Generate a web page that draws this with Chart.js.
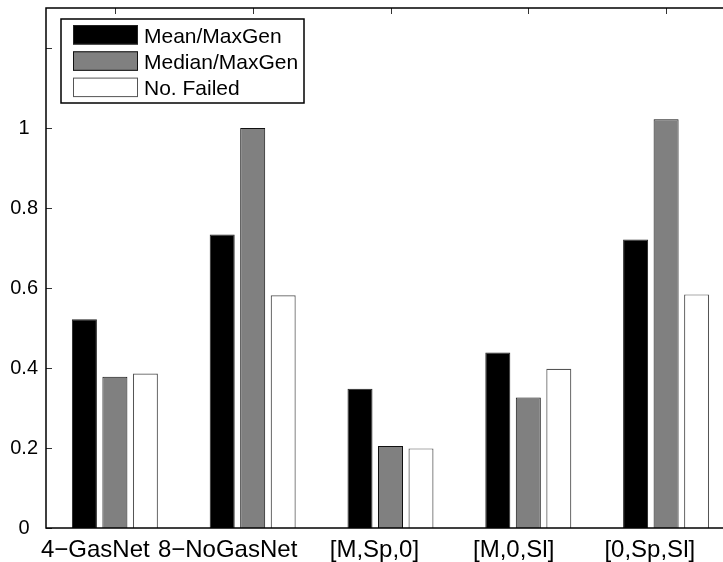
<!DOCTYPE html>
<html>
<head>
<meta charset="utf-8">
<script src="https://cdn.jsdelivr.net/npm/chart.js@4.4.1/dist/chart.umd.min.js"></script>
<style>
    html, body { margin: 0; padding: 0; background: #fff; overflow: hidden; }
    #wrap { width: 723px; height: 562px; overflow: hidden; }
</style>
</head>
<body>
<div id="wrap">
    <canvas id="barChart" width="745" height="562"></canvas>
</div>
<script>
// data
const categories = ['4\u2212GasNet', '8\u2212NoGasNet', '[M,Sp,0]', '[M,0,Sl]', '[0,Sp,Sl]'];
const seriesNames = ['Mean/MaxGen', 'Median/MaxGen', 'No. Failed'];
const meanMaxGen = [0.522, 0.734, 0.348, 0.439, 0.721];
const medianMaxGen = [0.378, 1.0, 0.205, 0.326, 1.022];
const noFailed = [0.386, 0.582, 0.199, 0.398, 0.584];
const yTicks = [0, 0.2, 0.4, 0.6, 0.8, 1, 1.2];
const yTickLabels = ['0', '0.2', '0.4', '0.6', '0.8', '1', ''];

const FONT = "'Liberation Sans', Arial, Helvetica, sans-serif";

// matlab style box + inward ticks
const axesBox = {
    id: 'axesBox',
    beforeDatasetsDraw(chart) {
        const { ctx, chartArea: a, scales } = chart;
        ctx.save();
        ctx.strokeStyle = '#333';
        ctx.lineWidth = 1;
        ctx.beginPath();
        scales.y.ticks.forEach(t => {
            const y = Math.round(scales.y.getPixelForValue(t.value)) + 0.5;
            ctx.moveTo(a.left, y); ctx.lineTo(a.left + 6, y);
            ctx.moveTo(a.right, y); ctx.lineTo(a.right - 6, y);
        });
        categories.forEach((c, i) => {
            const x = Math.round(scales.x.getPixelForValue(i)) + 0.5;
            ctx.moveTo(x, a.top); ctx.lineTo(x, a.top + 6);
            ctx.moveTo(x, a.bottom); ctx.lineTo(x, a.bottom - 6);
        });
        ctx.stroke();
        ctx.restore();
    },
    afterDatasetsDraw(chart) {
        const { ctx, chartArea: a } = chart;
        ctx.save();
        ctx.strokeStyle = '#000';
        ctx.lineWidth = 1.5;
        ctx.strokeRect(a.left, a.top, a.right - a.left, a.bottom - a.top);
        ctx.restore();
    },
    afterDraw(chart) {
        const { ctx, chartArea: a, scales } = chart;
        ctx.save();
        // category labels (shifted left like the original)
        ctx.font = '24px ' + FONT;
        ctx.fillStyle = '#000';
        ctx.textAlign = 'left';
        ctx.textBaseline = 'alphabetic';
        categories.forEach((c, i) => {
            const w = ctx.measureText(c).width;
            const x = scales.x.getPixelForValue(i);
            ctx.fillText(c, x - 0.68 * w, a.bottom + 29);
        });

        // legend box
        const lx = a.left + 15, ly = a.top + 11, lw = 243, lh = 84;
        ctx.fillStyle = '#fff';
        ctx.fillRect(lx, ly, lw, lh);
        ctx.strokeStyle = '#000';
        ctx.lineWidth = 1.5;
        ctx.strokeRect(lx, ly, lw, lh);
        ctx.font = '21px ' + FONT;
        chart.data.datasets.forEach((ds, i) => {
            const ry = ly + 6 + i * 26.3;
            ctx.fillStyle = ds.backgroundColor;
            ctx.fillRect(lx + 12, ry, 65, 19.5);
            ctx.strokeStyle = ds.borderColor;
            ctx.lineWidth = 1;
            ctx.strokeRect(lx + 12.5, ry + 0.5, 64, 18.5);
            ctx.fillStyle = '#000';
            ctx.fillText(ds.label, lx + 83, ry + 17.5);
        });
        ctx.restore();
    }
};

const ctx = document.getElementById('barChart');

new Chart(ctx.getContext('2d'), {
    type: 'bar',
    data: {
        labels: categories,
        datasets: [{
            label: seriesNames[0],
            data: meanMaxGen,
            backgroundColor: '#000000',
            borderColor: '#222',
            borderWidth: 1
        }, {
            label: seriesNames[1],
            data: medianMaxGen,
            backgroundColor: '#808080',
            borderColor: '#111',
            borderWidth: 1
        }, {
            label: seriesNames[2],
            data: noFailed,
            backgroundColor: '#ffffff',
            borderColor: '#555',
            borderWidth: 1.2
        }]
    },
    options: {
        responsive: false,
        animation: false,
        devicePixelRatio: 1,
        categoryPercentage: 0.664,
        barPercentage: 0.82,
        layout: { padding: { left: 0, right: 10, top: 8, bottom: 0 } },
        plugins: {
            legend: { display: false },
            tooltip: { enabled: false }
        },
        scales: {
            x: {
                offset: true,
                grid: { display: false },
                border: { display: false },
                ticks: { display: false },
                afterFit(scale) {
                    scale.height = 34;
                    scale.paddingLeft = 0;
                    scale.paddingRight = 0;
                }
            },
            y: {
                min: 0,
                max: 1.3,
                grid: { display: false, drawTicks: false },
                border: { display: false },
                afterBuildTicks(scale) {
                    scale.ticks = yTicks.map(v => ({ value: v }));
                },
                ticks: {
                    color: '#000',
                    font: { family: FONT, size: 20 },
                    padding: 8,
                    crossAlign: 'center',
                    callback: (value, index) => yTickLabels[index]
                },
                afterFit(scale) {
                    scale.width = 46;
                    scale.paddingTop = 0;
                    scale.paddingBottom = 0;
                }
            }
        }
    },
    plugins: [axesBox]
});
</script>
</body>
</html>
